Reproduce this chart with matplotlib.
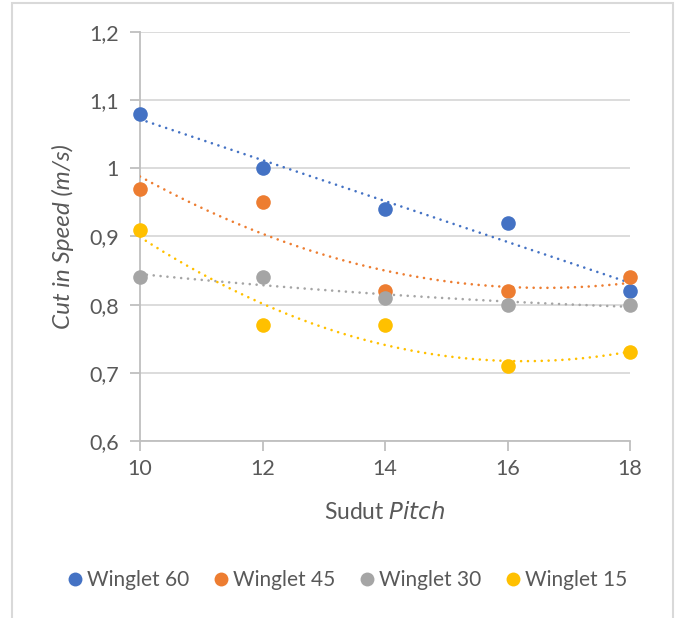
import numpy as np
import matplotlib
matplotlib.use("Agg")
import matplotlib.pyplot as plt
from matplotlib.lines import Line2D

pitch = [10, 12, 14, 16, 18]
series_names = ["Winglet 60", "Winglet 45", "Winglet 30", "Winglet 15"]
winglet_60 = [1.08, 1.00, 0.94, 0.92, 0.82]
winglet_45 = [0.97, 0.95, 0.82, 0.82, 0.84]
winglet_30 = [0.84, 0.84, 0.81, 0.80, 0.80]
winglet_15 = [0.91, 0.77, 0.77, 0.71, 0.73]
y_ticks = [0.6, 0.7, 0.8, 0.9, 1.0, 1.1, 1.2]
y_tick_labels = ["0,6", "0,7", "0,8", "0,9", "1", "1,1", "1,2"]
x_ticks = [10, 12, 14, 16, 18]

colors = ["#4472C4", "#ED7D31", "#A5A5A5", "#FFC000"]
series = [winglet_60, winglet_45, winglet_30, winglet_15]

plt.rcParams['font.family'] = ['Lato', 'DejaVu Sans']
txt = "#595959"

fig = plt.figure(figsize=(6.78, 6.18), dpi=100)
# outer chart border
fig.patches.append(plt.Rectangle((12/678, -0.01), (673-12)/678, 1.01 - 3/618,
                                 transform=fig.transFigure, fill=False,
                                 edgecolor="#D9D9D9", linewidth=1.5))
ax = fig.add_axes([140/678, 1-441/618, 490/678, 409/618])

x = np.array(pitch, dtype=float)
xs = np.linspace(10, 18, 200)
for vals, c in zip(series, colors):
    y = np.array(vals)
    coef = np.polyfit(x, y, 2)
    ax.plot(xs, np.polyval(coef, xs), color=c, lw=1.9,
            linestyle=(0, (0.01, 2.6)), dash_capstyle='round', zorder=3)
    ax.plot(x, y, 'o', color=c, markersize=10.5, markeredgewidth=0, zorder=4,
            clip_on=False)

ax.set_xlim(10, 18)
ax.set_ylim(0.6, 1.2)
ax.set_yticks(y_ticks)
ax.set_yticklabels(y_tick_labels)
ax.set_xticks(x_ticks)
ax.grid(axis='y', color="#D9D9D9", lw=1.3, zorder=0)
for s in ["top", "right"]:
    ax.spines[s].set_visible(False)
for s in ["left", "bottom"]:
    ax.spines[s].set_color("#BFBFBF")
    ax.spines[s].set_linewidth(1.3)
ax.tick_params(axis='both', colors="#BFBFBF", width=1.3, length=7,
               labelcolor=txt, labelsize=15.5)
ax.tick_params(axis='y', pad=8)
ax.tick_params(axis='x', pad=6)

fig.text(63/678, 1-237/618, "Cut in Speed (m/s)", rotation=90, style='italic',
         ha='center', va='center', fontsize=17.5, color=txt)
fig.text(385/678, 1-512/618, r"Sudut $\mathit{Pitch}$", ha='center', va='center',
         fontsize=16.5, color=txt, math_fontfamily='dejavusans')

handles = [Line2D([], [], marker='o', linestyle='none', color=c, markersize=10,
                  markeredgewidth=0) for c in colors]
fig.legend(handles, series_names, loc='center', bbox_to_anchor=(346/678, 1-580/618),
           ncol=4, frameon=False, fontsize=15, labelcolor=txt,
           handletextpad=0.1, columnspacing=1.0, handlelength=1.0)

fig.savefig("out.png", dpi=100)
